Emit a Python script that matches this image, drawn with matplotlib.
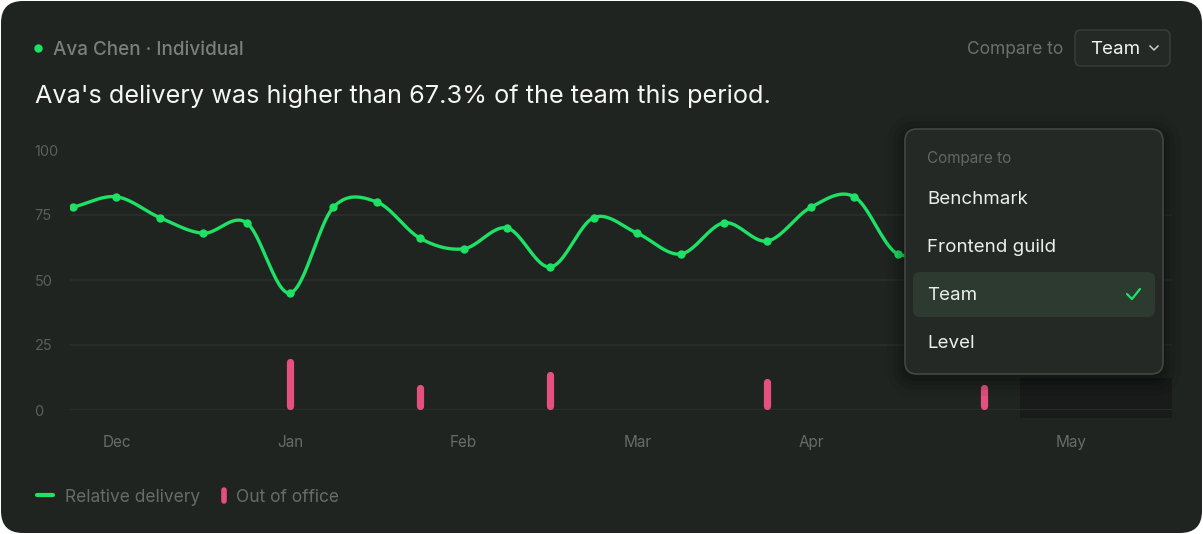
import numpy as np
import matplotlib
matplotlib.use("Agg")
import matplotlib.pyplot as plt
from matplotlib.patches import FancyBboxPatch, Rectangle

plt.rcParams['font.family'] = ['Inter', 'DejaVu Sans']

# weekly relative delivery (last points sit behind the dropdown, estimated)
delivery = [78, 82, 74, 68, 72, 45, 78, 80, 66, 62, 70, 55, 74, 68, 60, 72,
            65, 78, 82, 60, 66, 70, 74, 68, 72, 76]
ooo_weeks = [5, 8, 11, 16, 21]
ooo_vals = [20, 10, 15, 12, 10]
month_weeks = [1, 5, 9, 13, 17, 23]
month_labels = ['Dec', 'Jan', 'Feb', 'Mar', 'Apr', 'May']
y_ticks = [0, 25, 50, 75, 100]
grid_levels = [0, 25, 50, 75]
menu_items = ['Benchmark', 'Frontend guild', 'Team', 'Level']
selected = 'Team'

CARD = '#202421'
GREEN = '#1ee265'
PINK = '#e4517e'
GRID = '#2c302d'
MUTED = '#686c69'
W, H = 1203, 534


def catmull_rom(y, per=24):
    # smooth curve through the points (uniform Catmull-Rom)
    y = np.asarray(y, float)
    p = np.concatenate([[2 * y[0] - y[1]], y, [2 * y[-1] - y[-2]]])
    xs, ys = [], []
    for i in range(len(y) - 1):
        t = np.linspace(0, 1, per, endpoint=False)
        p0, p1, p2, p3 = p[i], p[i + 1], p[i + 2], p[i + 3]
        seg = 0.5 * (2 * p1 + (-p0 + p2) * t + (2 * p0 - 5 * p1 + 4 * p2 - p3) * t ** 2
                     + (-p0 + 3 * p1 - 3 * p2 + p3) * t ** 3)
        xs.append(i + t)
        ys.append(seg)
    xs.append([len(y) - 1])
    ys.append([y[-1]])
    return np.concatenate(xs), np.concatenate(ys)


fig = plt.figure(figsize=(W / 100, H / 100), dpi=100)
fig.patch.set_facecolor('white')

# background layer (pixel coordinates)
bg = fig.add_axes([0, 0, 1, 1], zorder=-2)
bg.set_xlim(0, W)
bg.set_ylim(H, 0)
bg.axis('off')
bg.add_patch(FancyBboxPatch((1, 1), W - 2, H - 2, boxstyle='round,pad=0,rounding_size=22',
                            fc=CARD, ec='none'))
bg.add_patch(Rectangle((1020, 378), 152, 40, fc='#161917', ec='none', alpha=0.8))

# chart
ax = fig.add_axes([70 / W, 1 - 410 / H, 1102 / W, 260 / H])
ax.set_facecolor('none')
x = np.arange(len(delivery))
ax.set_xlim(-0.07, 25.32)
ax.set_ylim(0, 100)
for g in grid_levels:
    ax.axhline(g, color='#2a322c' if g == 0 else GRID, lw=1.2, zorder=0)
ax.vlines(ooo_weeks, 1.4, np.array(ooo_vals) - 1.4, color=PINK, lw=5.2,
          capstyle='round', zorder=2)
sx, sy = catmull_rom(delivery)
ax.plot(sx, sy, color=GREEN, lw=2.4, solid_capstyle='round', zorder=3)
ax.plot(x, delivery, 'o', color=GREEN, ms=5, zorder=4)
for s in ax.spines.values():
    s.set_visible(False)
ax.set_yticks(y_ticks)
ax.set_yticklabels([str(v) for v in y_ticks], ha='left')
ax.set_xticks(month_weeks)
ax.set_xticklabels(month_labels)
ax.tick_params(axis='y', length=0, pad=25.5, labelsize=10.5, labelcolor='#5b5f5c')
ax.tick_params(axis='x', length=0, pad=18, labelsize=11, labelcolor=MUTED)

# foreground layer: header, legend, dropdown
fg = fig.add_axes([0, 0, 1, 1], zorder=5)
fg.set_xlim(0, W)
fg.set_ylim(H, 0)
fg.axis('off')
fg.patch.set_alpha(0)

fg.plot([38], [48], 'o', color=GREEN, ms=5)
fg.text(53, 50, 'Ava Chen · Individual', color='#7b7f7c', fontsize=13.6,
        fontweight='medium', va='center')
fg.text(35, 96, "Ava's delivery was higher than 67.3% of the team this period.",
        color='#f4f5f4', fontsize=18.2, va='center')

fg.text(1063, 50, 'Compare to', color='#6d716e', fontsize=12.5, va='center', ha='right')
fg.add_patch(FancyBboxPatch((1075, 30), 95, 36, boxstyle='round,pad=0,rounding_size=6',
                            fc='#252926', ec='#3a3f3b', lw=1))
fg.text(1090, 50, 'Team', color='#f2f3f2', fontsize=13.5, va='center')
fg.plot([1150, 1154, 1158], [46, 50, 46], color='#c9ccca', lw=1.1)

# legend
fg.plot([37, 53], [495, 495], color=GREEN, lw=3, solid_capstyle='round')
fg.text(65, 497, 'Relative delivery', color=MUTED, fontsize=12.5, va='center')
fg.plot([224, 224], [490, 501], color=PINK, lw=4, solid_capstyle='round')
fg.text(236, 497, 'Out of office', color=MUTED, fontsize=12.5, va='center')

# dropdown with soft shadow
for k, a in zip([18, 12, 7, 3], [0.05, 0.07, 0.09, 0.12]):
    fg.add_patch(FancyBboxPatch((905 - k, 129 - k + 4), 258 + 2 * k, 245 + 2 * k,
                                boxstyle='round,pad=0,rounding_size=%d' % (12 + k),
                                fc='black', ec='none', alpha=a))
fg.add_patch(FancyBboxPatch((905, 129), 258, 245, boxstyle='round,pad=0,rounding_size=12',
                            fc='#252926', ec='#434844', lw=1.2))
fg.text(927, 158, 'Compare to', color='#636764', fontsize=11, va='center')
for i, item in enumerate(menu_items):
    yy = 198 + 48 * i
    if item == selected:
        fg.add_patch(FancyBboxPatch((913, yy - 22), 242, 45,
                                    boxstyle='round,pad=0,rounding_size=7',
                                    fc='#2c3a2f', ec='none'))
        fg.plot([1127, 1132, 1140], [294, 299, 289], color=GREEN, lw=1.6,
                solid_capstyle='round', solid_joinstyle='round')
    fg.text(927, yy + 2, item, color='#eceeec', fontsize=13.5, va='center')

fig.savefig('out.png', dpi=100, facecolor=fig.get_facecolor())
plt.close(fig)
